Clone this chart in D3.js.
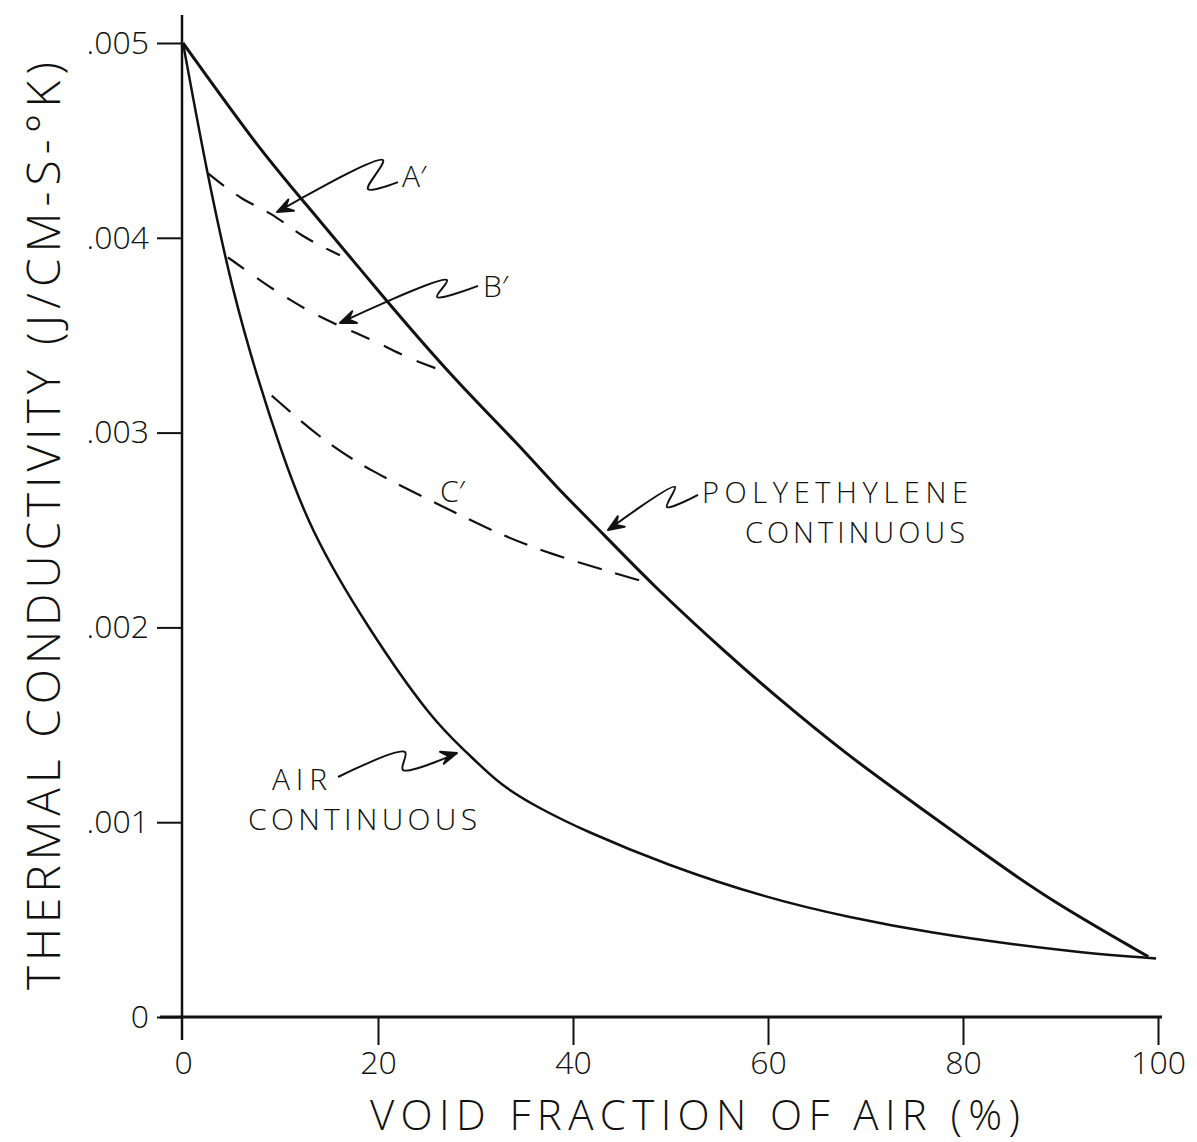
<!DOCTYPE html>
<html>
<head>
<meta charset="utf-8">
<script src="https://cdn.jsdelivr.net/npm/d3@7"></script>
<style>
body { margin: 0; background: #fff; }
text { font-family: "Open Sans", "DejaVu Sans", sans-serif; font-weight: 300; fill: #111; }
</style>
</head>
<body>
<svg width="1197" height="1142"></svg>
<script>
// values (void fraction %, conductivity J/cm-s-K)
var polyX = [0, 7.9, 12.0, 20.8, 27.7, 34.6, 37.9, 43.5, 47.9, 56.1, 60.5, 67.7, 76.3, 82.1, 88.9, 99.0];
var polyY = [0.00500, 0.00445, 0.00421, 0.00368, 0.00328, 0.00293, 0.00274, 0.00246, 0.00223, 0.00185, 0.00166, 0.00136, 0.00105, 0.00084, 0.00060, 0.00031];

var airX = [0, 2.46, 5.1, 7.7, 9.9, 13.0, 18.9, 25.6, 29.1, 32.5, 36.6, 41.0, 49.6, 59.9, 68.4, 76.9, 85.5, 92.3, 99.8];
var airY = [0.00500, 0.00433, 0.00372, 0.00327, 0.00293, 0.00250, 0.00200, 0.00152, 0.00136, 0.00119, 0.00107, 0.00096, 0.00078, 0.00061, 0.00051, 0.00043, 0.00037, 0.00033, 0.00030];

var aX = [2.6, 6.1, 9.1, 12.0, 16.1];
var aY = [0.00433, 0.00419, 0.00413, 0.00401, 0.00391];

var bX = [4.6, 8.2, 11.0, 14.1, 17.8, 20.5, 23.6, 27.1];
var bY = [0.00390, 0.00377, 0.00368, 0.00359, 0.00351, 0.00345, 0.00337, 0.00331];

var cX = [9.1, 14.1, 18.9, 27.1, 31.5, 37.3, 47.6];
var cY = [0.00319, 0.00297, 0.00281, 0.00261, 0.00250, 0.00238, 0.00223];

var xTicks = [0, 20, 40, 60, 80, 100];
var yTicks = [0, 0.001, 0.002, 0.003, 0.004, 0.005];

// squiggle arrows: label end -> zig -> zag -> tip
var arrowA = [[22.05, 0.004286], [18.97, 0.004250], [20.51, 0.004399], [9.64, 0.004132]];
var arrowB = [[30.26, 0.003753], [26.05, 0.003696], [27.08, 0.003783], [16.10, 0.003563]];
var arrowP = [[52.82, 0.002680], [49.64, 0.002618], [50.46, 0.002721], [43.59, 0.002500]];
var arrowAir = [[15.90, 0.001232], [22.77, 0.001360], [22.56, 0.001268], [28.10, 0.001355]];

var svg = d3.select('svg');

var x = d3.scaleLinear().domain([0, 100]).range([183, 1158]);
var y = d3.scaleLinear().domain([0, 0.005]).range([1017, 43]);

function pairs(xs, ys) {
	return xs.map(function(d, i) { return [d, ys[i]]; });
}

var line = d3.line()
	.x(function(d) { return x(d[0]); })
	.y(function(d) { return y(d[1]); })
	.curve(d3.curveBasis);

// axes
var xAxis = svg.append('g')
	.attr('transform', 'translate(0,' + y(0) + ')')
	.call(d3.axisBottom(x).tickValues(xTicks).tickSize(28).tickPadding(6).tickFormat(function(d) { return d; }));

var yAxis = svg.append('g')
	.attr('transform', 'translate(' + (x(0) - 1) + ',0)')
	.call(d3.axisLeft(y).tickValues(yTicks).tickSize(25).tickPadding(8)
		.tickFormat(function(d) { return d === 0 ? '0' : d3.format('.3f')(d).replace(/^0/, ''); }));

svg.selectAll('.domain').remove();
svg.selectAll('.tick line').attr('stroke', '#111').attr('stroke-width', 2);
svg.selectAll('.tick text').attr('font-size', 32).attr('fill', '#111')
	.style('font-family', '"Open Sans", "DejaVu Sans", sans-serif').style('font-weight', 300);
xAxis.selectAll('.tick').filter(function(d) { return d === 0; }).select('line').remove();

svg.append('line')
	.attr('x1', x(0) - 1).attr('x2', x(0) - 1)
	.attr('y1', y(0.005) - 28).attr('y2', y(0) + 23)
	.attr('stroke', '#111').attr('stroke-width', 2.5);
svg.append('line')
	.attr('x1', x(0) - 23).attr('x2', x(100) + 4)
	.attr('y1', y(0)).attr('y2', y(0))
	.attr('stroke', '#111').attr('stroke-width', 3);

// curves
svg.append('path').datum(pairs(polyX, polyY))
	.attr('d', line).attr('fill', 'none').attr('stroke', '#111').attr('stroke-width', 3);
svg.append('path').datum(pairs(airX, airY))
	.attr('d', line).attr('fill', 'none').attr('stroke', '#111').attr('stroke-width', 2.5);

[[aX, aY, '20,15'], [bX, bY, '20,16'], [cX, cY, '25,14']].forEach(function(s) {
	svg.append('path').datum(pairs(s[0], s[1]))
		.attr('d', line).attr('fill', 'none').attr('stroke', '#111')
		.attr('stroke-width', 2.2).attr('stroke-dasharray', s[2]);
});

// annotation arrows
var squiggle = d3.line()
	.x(function(d) { return x(d[0]); })
	.y(function(d) { return y(d[1]); })
	.curve(d3.curveCatmullRom.alpha(0.5));

function arrow(pts) {
	svg.append('path').datum(pts)
		.attr('d', squiggle).attr('fill', 'none').attr('stroke', '#111').attr('stroke-width', 2);
	var tip = pts[pts.length - 1], prev = pts[pts.length - 2];
	var tx = x(tip[0]), ty = y(tip[1]);
	var ang = Math.atan2(ty - y(prev[1]), tx - x(prev[0]));
	var len = 17, spread = 0.38;
	var p1 = [tx - len * Math.cos(ang - spread), ty - len * Math.sin(ang - spread)];
	var p2 = [tx - len * Math.cos(ang + spread), ty - len * Math.sin(ang + spread)];
	var mid = [tx - len * 0.55 * Math.cos(ang), ty - len * 0.55 * Math.sin(ang)];
	svg.append('path')
		.attr('d', 'M' + p1 + 'L' + tx + ',' + ty + 'L' + p2 + 'L' + mid + 'Z')
		.attr('fill', '#111').attr('stroke', '#111').attr('stroke-width', 2).attr('stroke-linejoin', 'round');
}
arrow(arrowA);
arrow(arrowB);
arrow(arrowP);
arrow(arrowAir);

// labels
var labels = [
	{t: 'A\u2032', x: 22.46, y: 0.004261, s: 30},
	{t: 'B\u2032', x: 30.77, y: 0.003696, s: 30},
	{t: 'C\u2032', x: 26.36, y: 0.002644, s: 30},
	{t: 'POLYETHYLENE', x: 53.23, y: 0.002640, s: 29, w: 266},
	{t: 'CONTINUOUS', x: 57.64, y: 0.002434, s: 29, w: 220},
	{t: 'AIR', x: 9.13, y: 0.001165, s: 30, w: 55},
	{t: 'CONTINUOUS', x: 6.67, y: 0.000960, s: 30, w: 229}
];
labels.forEach(function(l) {
	var t = svg.append('text')
		.attr('x', x(l.x)).attr('y', y(l.y))
		.attr('font-size', l.s).text(l.t);
	if (l.w) t.attr('textLength', l.w).attr('lengthAdjust', 'spacing');
});

// axis titles
svg.append('text')
	.attr('x', 370).attr('y', 1130)
	.attr('font-size', 42).attr('textLength', 650).attr('lengthAdjust', 'spacing')
	.text('VOID FRACTION OF AIR (%)');

svg.append('text')
	.attr('transform', 'translate(60,990) rotate(-90)')
	.attr('font-size', 46).attr('textLength', 620).attr('lengthAdjust', 'spacing')
	.text('THERMAL CONDUCTIVITY');
svg.append('text')
	.attr('transform', 'translate(60,345) rotate(-90)')
	.attr('font-size', 46).attr('textLength', 283).attr('lengthAdjust', 'spacing')
	.text('(J/CM-S-\u00B0K)');
</script>
</body>
</html>
